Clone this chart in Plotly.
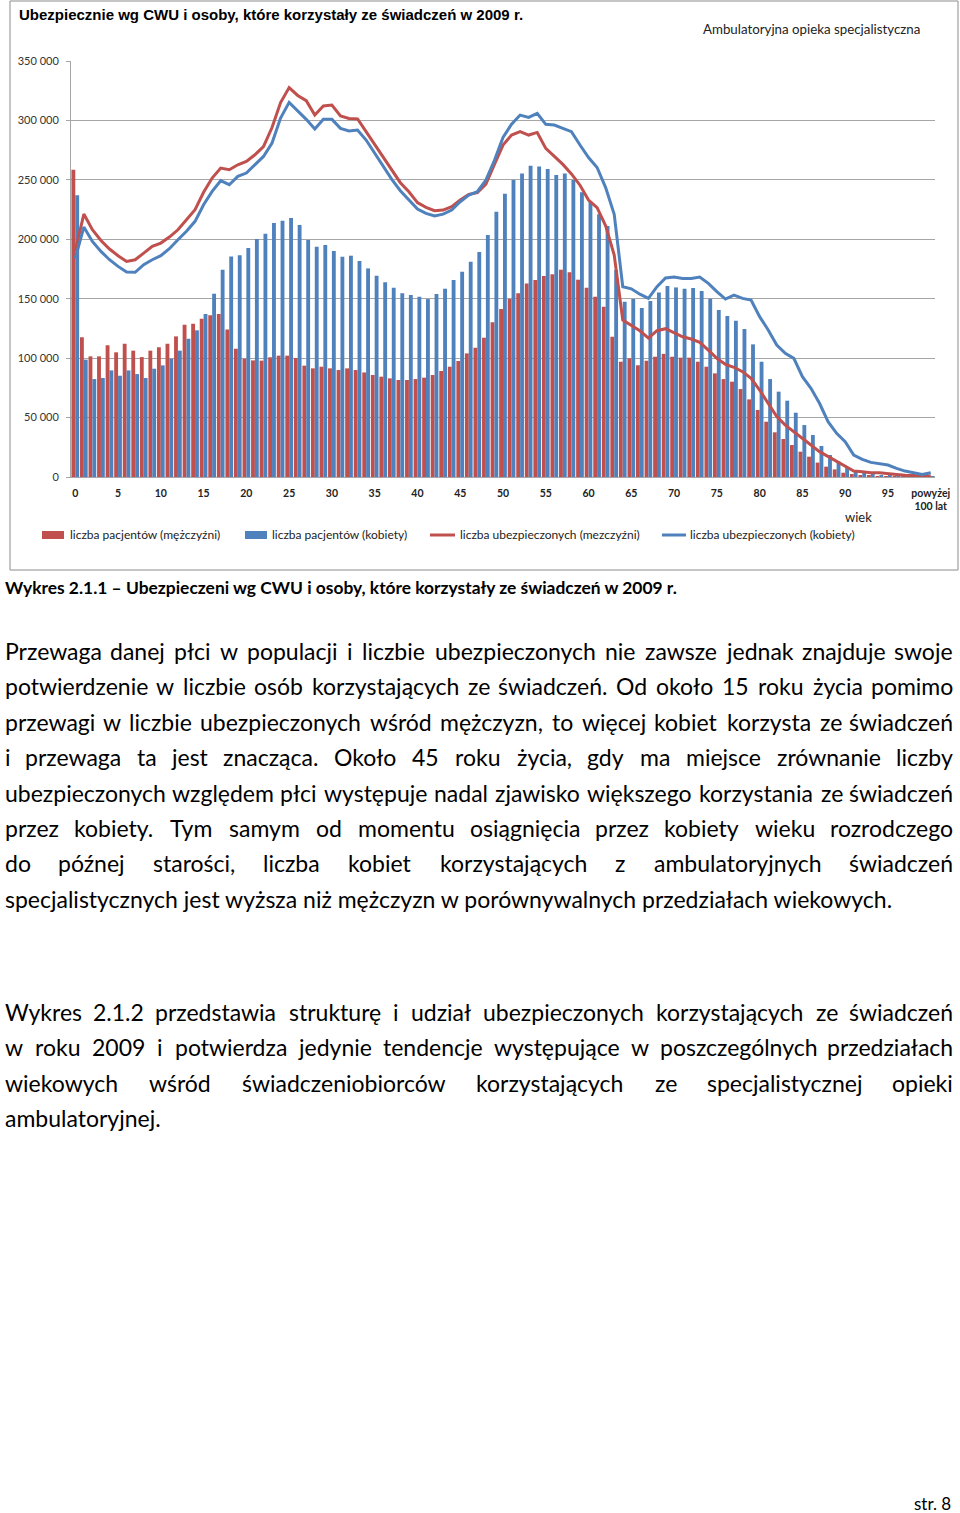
import plotly.graph_objects as go

# ---------------- data ----------------
ages = list(range(101))
tick_vals = list(range(0, 101, 5))
tick_text = [str(v) for v in range(0, 100, 5)] + ["powyżej<br>100 lat"]

patients_men = [
    258500, 117500, 101500, 101500, 110800, 104900, 112200, 106300, 100900, 106300,
    109100, 112200, 118300, 128100, 129000, 133200, 136000, 137100, 124000, 108000,
    99500, 98100, 97900, 100700, 102100, 102100, 100100, 93700, 91400, 92800,
    91400, 90000, 91400, 90000, 88000, 85800, 84400, 83000, 81600, 81600,
    82400, 83600, 85800, 89200, 92800, 97600, 104000, 108800, 117200, 130100,
    141300, 149700, 154500, 162900, 165700, 169100, 170500, 174400, 172200, 166000,
    159300, 151700, 143300, 118000, 97000, 99800, 94000, 97800, 101200, 103600,
    101200, 100400, 100400, 97000, 92800, 87200, 82400, 80200, 74000, 65300,
    56400, 46500, 37600, 32000, 26900, 21300, 17100, 12100, 8700, 6400,
    3600, 2500, 1700, 1100, 800, 600, 300, 200, 150, 100,
    200,
]

patients_women = [
    237000, 98700, 82400, 83300, 89700, 85200, 89700, 86600, 83300, 91100,
    93900, 99500, 106300, 116400, 123400, 137100, 154200, 174400, 185600, 186500,
    192600, 200200, 204700, 213700, 215600, 217900, 212000, 199400, 193800, 195200,
    190100, 185300, 186200, 181700, 175500, 169400, 163800, 159300, 154500, 153100,
    151700, 149700, 153900, 158400, 165700, 172700, 181100, 189300, 203600, 223200,
    238300, 249800, 255400, 261900, 261300, 259100, 254000, 255400, 249800, 239500,
    231600, 221000, 211100, 174100, 147500, 149700, 142200, 148000, 155300, 160700,
    159500, 158400, 159000, 156400, 150000, 140500, 135400, 131500, 124500, 111600,
    97000, 82400, 71800, 64200, 54100, 43700, 35300, 26100, 18500, 12900,
    7900, 5300, 3600, 2500, 1700, 1400, 800, 600, 500, 300,
    800,
]

insured_men = [
    190000, 221200, 208000, 199000, 191800, 186200, 181400, 182800, 188400, 194000,
    196800, 201900, 208000, 216500, 224900, 239500, 251500, 259900, 258500, 262700,
    265500, 271100, 278000, 294000, 315000, 327600, 321000, 316600, 304500, 312100,
    312900, 303700, 301700, 301200, 290500, 279300, 268100, 258200, 247600, 240000,
    230800, 226800, 224000, 224600, 227400, 233000, 237800, 239200, 246300, 263000,
    279300, 287700, 290500, 287700, 289900, 276500, 270000, 263000, 255000, 245500,
    233000, 226700, 211300, 186700, 132100, 127900, 123000, 116900, 123100, 124800,
    121500, 118000, 116100, 113300, 106800, 99800, 94800, 92300, 88600, 83000,
    73200, 62000, 50800, 43700, 38100, 31700, 26900, 21300, 17100, 12900,
    8700, 5000, 4500, 3600, 3600, 3100, 2200, 1400, 1100, 800,
    800,
]

insured_women = [
    184000, 210300, 198200, 189800, 182800, 177200, 172400, 172200, 178600, 182800,
    186200, 192100, 199600, 206700, 215100, 229100, 240300, 249300, 245900, 252900,
    255700, 262700, 269700, 281000, 302000, 315200, 308000, 300900, 292800, 300900,
    300900, 293300, 291100, 291900, 283500, 272300, 261100, 250400, 240900, 233000,
    225400, 221800, 219600, 221200, 224600, 231600, 237200, 240000, 249800, 266500,
    285600, 296800, 304500, 302600, 305900, 296700, 296100, 293300, 290500, 279300,
    268800, 260400, 243500, 221100, 160100, 158300, 153800, 150300, 160100, 167400,
    168200, 167100, 167100, 168200, 162900, 155900, 149700, 153100, 150300, 148900,
    134900, 123700, 111000, 104000, 99800, 84400, 74600, 62000, 46500, 36700,
    29700, 18500, 14900, 12300, 10900, 10100, 7300, 5000, 3600, 2200,
    3600,
]

series_names = [
    "liczba pacjentów (mężczyźni)",
    "liczba pacjentów (kobiety)",
    "liczba ubezpieczonych (mezczyźni)",
    "liczba ubezpieczonych (kobiety)",
]

chart_title = "Ubezpiecznie wg CWU i osoby, które korzystały ze świadczeń w 2009 r."
chart_subtitle = "Ambulatoryjna opieka specjalistyczna"
x_title = "wiek"
caption = "Wykres 2.1.1 – Ubezpieczeni wg CWU i osoby, które korzystały ze świadczeń w 2009 r."

paragraph1 = [
    "Przewaga danej płci w populacji i liczbie ubezpieczonych nie zawsze jednak znajduje swoje",
    "potwierdzenie w liczbie osób korzystających ze świadczeń. Od około 15 roku życia pomimo",
    "przewagi w liczbie ubezpieczonych wśród mężczyzn, to więcej kobiet korzysta ze świadczeń",
    "i przewaga ta jest znacząca. Około 45 roku życia, gdy ma miejsce zrównanie liczby",
    "ubezpieczonych względem płci występuje nadal zjawisko większego korzystania ze świadczeń",
    "przez kobiety. Tym samym od momentu osiągnięcia przez kobiety wieku rozrodczego",
    "do późnej starości, liczba kobiet korzystających z ambulatoryjnych świadczeń",
    "specjalistycznych jest wyższa niż mężczyzn w porównywalnych przedziałach wiekowych.",
]
paragraph2 = [
    "Wykres 2.1.2 przedstawia strukturę i udział ubezpieczonych korzystających ze świadczeń",
    "w roku 2009 i potwierdza jedynie tendencje występujące w poszczególnych przedziałach",
    "wiekowych wśród świadczeniobiorców korzystających ze specjalistycznej opieki",
    "ambulatoryjnej.",
]
page_number = "str. 8"

# ---------------- style ----------------
RED = "#C0504D"
BLUE = "#4F81BD"
GRID = "#A6A6A6"
W, H = 960, 1513


def px(x):
    return x / W


def py(y):
    return 1 - y / H


fig = go.Figure()
fig.add_bar(x=ages, y=patients_men, name=series_names[0], marker_color=RED, marker_line_width=0)
fig.add_bar(x=ages, y=patients_women, name=series_names[1], marker_color=BLUE, marker_line_width=0)
fig.add_scatter(x=ages, y=insured_men, name=series_names[2], mode="lines",
                line=dict(color=RED, width=3))
fig.add_scatter(x=ages, y=insured_women, name=series_names[3], mode="lines",
                line=dict(color=BLUE, width=3))

fig.update_layout(
    width=W, height=H, autosize=False,
    margin=dict(l=0, r=0, t=0, b=0, pad=0),
    paper_bgcolor="white", plot_bgcolor="white",
    showlegend=False, barmode="group", bargap=0.1, bargroupgap=0,
    separators=", ",
)
fig.update_xaxes(
    automargin=False,
    domain=[px(71), px(935)], range=[-0.5, 100.5],
    tickvals=tick_vals, ticktext=["<b>%s</b>" % t for t in tick_text],
    tickfont=dict(family="Lato", size=10.5, color="#222"),
    showline=True, linecolor=GRID, linewidth=1, showgrid=False, zeroline=False,
    ticks="", ticklabelstandoff=6, tickangle=0,
)
fig.update_yaxes(
    automargin=False,
    domain=[py(477), py(61)], range=[0, 350000],
    tickvals=list(range(0, 350001, 50000)), tickformat=",d",
    tickfont=dict(family="Lato", size=11, color="#333"),
    showgrid=True, gridcolor=GRID, gridwidth=1,
    showline=True, linecolor=GRID, linewidth=1, zeroline=False,
    ticks="outside", ticklen=4, tickcolor=GRID, ticklabelstandoff=5,
)

shapes = []
annotations = []

# chart border
shapes.append(dict(type="rect", xref="paper", yref="paper", x0=px(10), x1=px(958), y0=py(570), y1=py(1),
                   line=dict(color="#8C8C8C", width=1), fillcolor="rgba(0,0,0,0)", layer="below"))

# manual legend
leg_y = 535
shapes.append(dict(type="rect", xref="paper", yref="paper", x0=px(42), x1=px(64), y0=py(539), y1=py(531),
                   line=dict(width=0), fillcolor=RED))
shapes.append(dict(type="rect", xref="paper", yref="paper", x0=px(245), x1=px(267), y0=py(539), y1=py(531),
                   line=dict(width=0), fillcolor=BLUE))
shapes.append(dict(type="line", xref="paper", yref="paper", x0=px(430), x1=px(455), y0=py(leg_y), y1=py(leg_y),
                   line=dict(color=RED, width=3)))
shapes.append(dict(type="line", xref="paper", yref="paper", x0=px(662), x1=px(686), y0=py(leg_y), y1=py(leg_y),
                   line=dict(color=BLUE, width=3)))
for xpos, name in zip([68, 270, 458, 688], series_names):
    annotations.append(dict(x=px(xpos), y=py(leg_y), xref="paper", yref="paper", text=name, showarrow=False,
                            xanchor="left", yanchor="middle", font=dict(family="Lato", size=12, color="#222")))

# titles
annotations.append(dict(x=px(17), y=py(15), xref="paper", yref="paper", text="<b>%s</b>" % chart_title,
                        showarrow=False, xanchor="left", yanchor="middle",
                        font=dict(family="Liberation Sans", size=15, color="#000")))
annotations.append(dict(x=px(701), y=py(29), xref="paper", yref="paper", text=chart_subtitle,
                        showarrow=False, xanchor="left", yanchor="middle",
                        font=dict(family="Lato", size=13.3, color="#222")))
annotations.append(dict(x=px(858), y=py(517), xref="paper", yref="paper", text=x_title,
                        showarrow=False, xanchor="center", yanchor="middle",
                        font=dict(family="Lato", size=13, color="#222")))
annotations.append(dict(x=px(3), y=py(588), xref="paper", yref="paper", text="<b>%s</b>" % caption,
                        showarrow=False, xanchor="left", yanchor="middle",
                        font=dict(family="Lato", size=17.4, color="#000")))

# paragraph text (justified by placing words individually)
CW = {
    " ": 0.193, "a": 0.49, "b": 0.56, "c": 0.46, "d": 0.56, "e": 0.52, "f": 0.32, "g": 0.50, "h": 0.56,
    "i": 0.24, "j": 0.24, "k": 0.51, "l": 0.24, "m": 0.84, "n": 0.56, "o": 0.56, "p": 0.55, "q": 0.56,
    "r": 0.37, "s": 0.42, "t": 0.35, "u": 0.56, "v": 0.51, "w": 0.78, "x": 0.50, "y": 0.51, "z": 0.45,
    "ą": 0.49, "ę": 0.52, "ł": 0.28, "ó": 0.56, "ś": 0.42, "ź": 0.45, "ż": 0.45, "ć": 0.46, "ń": 0.56,
    "P": 0.60, "O": 0.80, "T": 0.58, "W": 1.0, ".": 0.21, ",": 0.21,
}
FS = 23
FONT = dict(family="Lato", size=FS, color="#000")


def wwidth(word):
    return sum(CW.get(c, 0.58) for c in word) * FS


def add_lines(lines, y0, dy, last_free):
    for k, line in enumerate(lines):
        y = y0 + k * dy
        if last_free and k == len(lines) - 1:
            annotations.append(dict(x=px(3), y=py(y), xref="paper", yref="paper", text=line, showarrow=False,
                                    xanchor="left", yanchor="middle", font=FONT))
            continue
        words = line.split()
        widths = [wwidth(w) for w in words]
        gap = (950 - sum(widths)) / (len(words) - 1)
        x = 4
        for j, (w, wd) in enumerate(zip(words, widths)):
            if j == 0:
                xa, xx = "left", 3
            elif j == len(words) - 1:
                xa, xx = "right", 955
            else:
                xa, xx = "center", x + wd / 2
            annotations.append(dict(x=px(xx), y=py(y), xref="paper", yref="paper", text=w, showarrow=False,
                                    xanchor=xa, yanchor="middle", font=FONT))
            x += wd + gap


add_lines(paragraph1, 651, 35.4, True)
add_lines(paragraph2, 1012, 35.4, True)

annotations.append(dict(x=px(953), y=py(1503), xref="paper", yref="paper", text=page_number, showarrow=False,
                        xanchor="right", yanchor="middle", font=dict(family="Lato", size=17, color="#000")))

fig.update_layout(shapes=shapes, annotations=annotations)
fig.write_html(
    "out.html",
    config={"displayModeBar": False},
    post_script=(
        "document.documentElement.style.overflow='hidden';"
        "document.body.style.margin='0px';"
        "document.body.style.overflow='hidden';"
    ),
)
